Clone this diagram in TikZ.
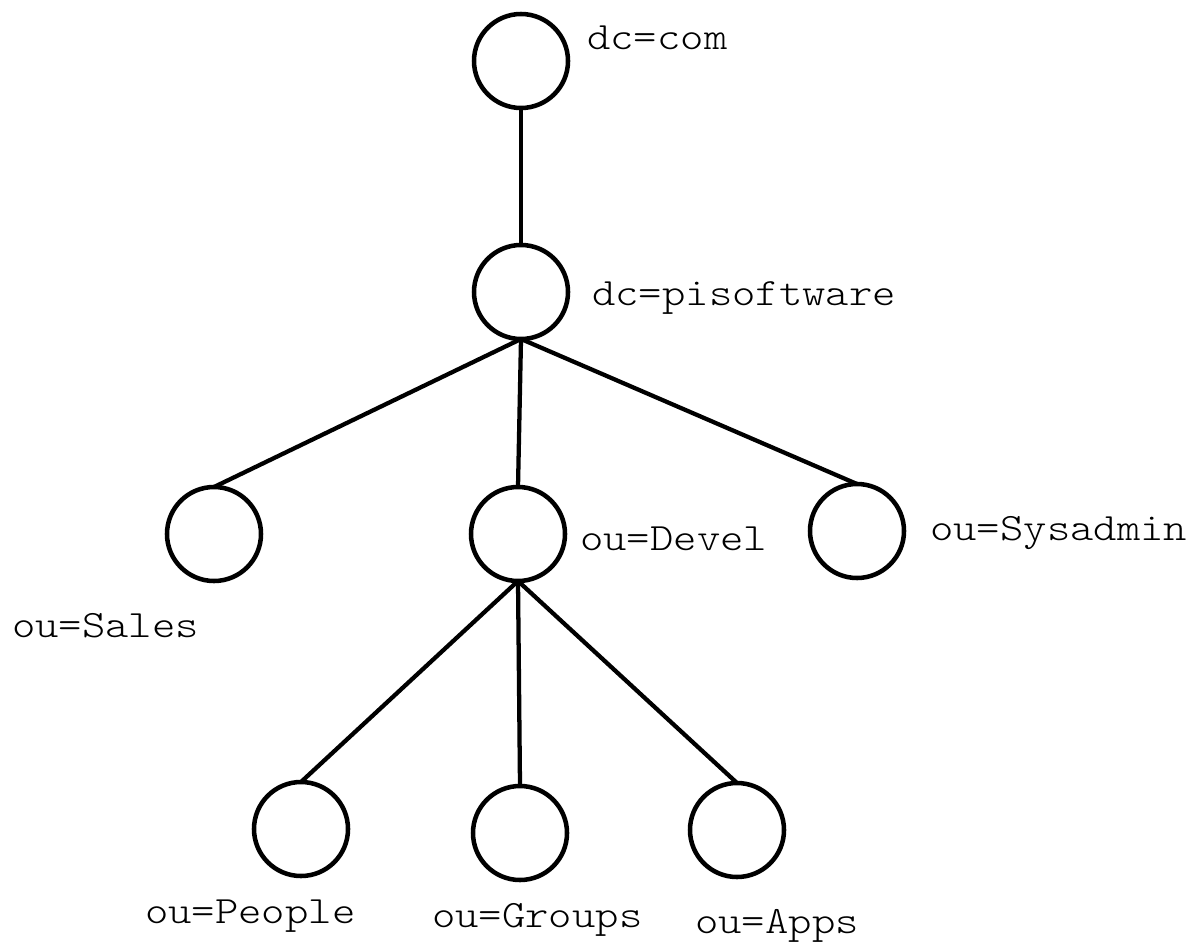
\documentclass[tikz,border=0pt]{standalone}
\usepackage{fontspec}
\setmonofont{Latin Modern Mono Light}[FakeStretch=1.15]
\begin{document}
\begin{tikzpicture}[x=0.75pt,y=-0.75pt,
  vtx/.style={circle,draw,line width=3.4pt,minimum size=70.5pt,inner sep=0pt,outer sep=0pt},
  lbl/.style={anchor=base west,inner sep=0pt,font=\ttfamily\fontsize{29pt}{34pt}\selectfont},
  conn/.style={line width=3.2pt}]
\useasboundingbox (0,0) rectangle (1194,941);
\node[vtx] (com) at (521,61) {};
\node[vtx] (pi) at (521,292) {};
\node[vtx] (sales) at (214,534) {};
\node[vtx] (devel) at (518,534) {};
\node[vtx] (sys) at (857,531) {};
\node[vtx] (people) at (301,829) {};
\node[vtx] (groups) at (520,833) {};
\node[vtx] (apps) at (737,830) {};
\node[lbl] (lcom) at (587,50) {dc=com};
\node[lbl] (lpi) at (592,305) {dc=pisoftware};
\node[lbl] (ldevel) at (580,550) {ou=Devel};
\node[lbl] (lsys) at (930,540) {ou=Sysadmin};
\node[lbl] (lsales) at (12,637) {ou=Sales};
\node[lbl] (lpeople) at (145,923) {ou=People};
\node[lbl] (lgroups) at (432,927) {ou=Groups};
\node[lbl] (lapps) at (695,933) {ou=Apps};
\draw[conn] (com.south) -- (pi.north);
\draw[conn] (pi.south) -- (sales.north);
\draw[conn] (pi.south) -- (devel.north);
\draw[conn] (pi.south) -- (sys.north);
\draw[conn] (devel.south) -- (people.north);
\draw[conn] (devel.south) -- (groups.north);
\draw[conn] (devel.south) -- (apps.north);
\end{tikzpicture}
\end{document}
